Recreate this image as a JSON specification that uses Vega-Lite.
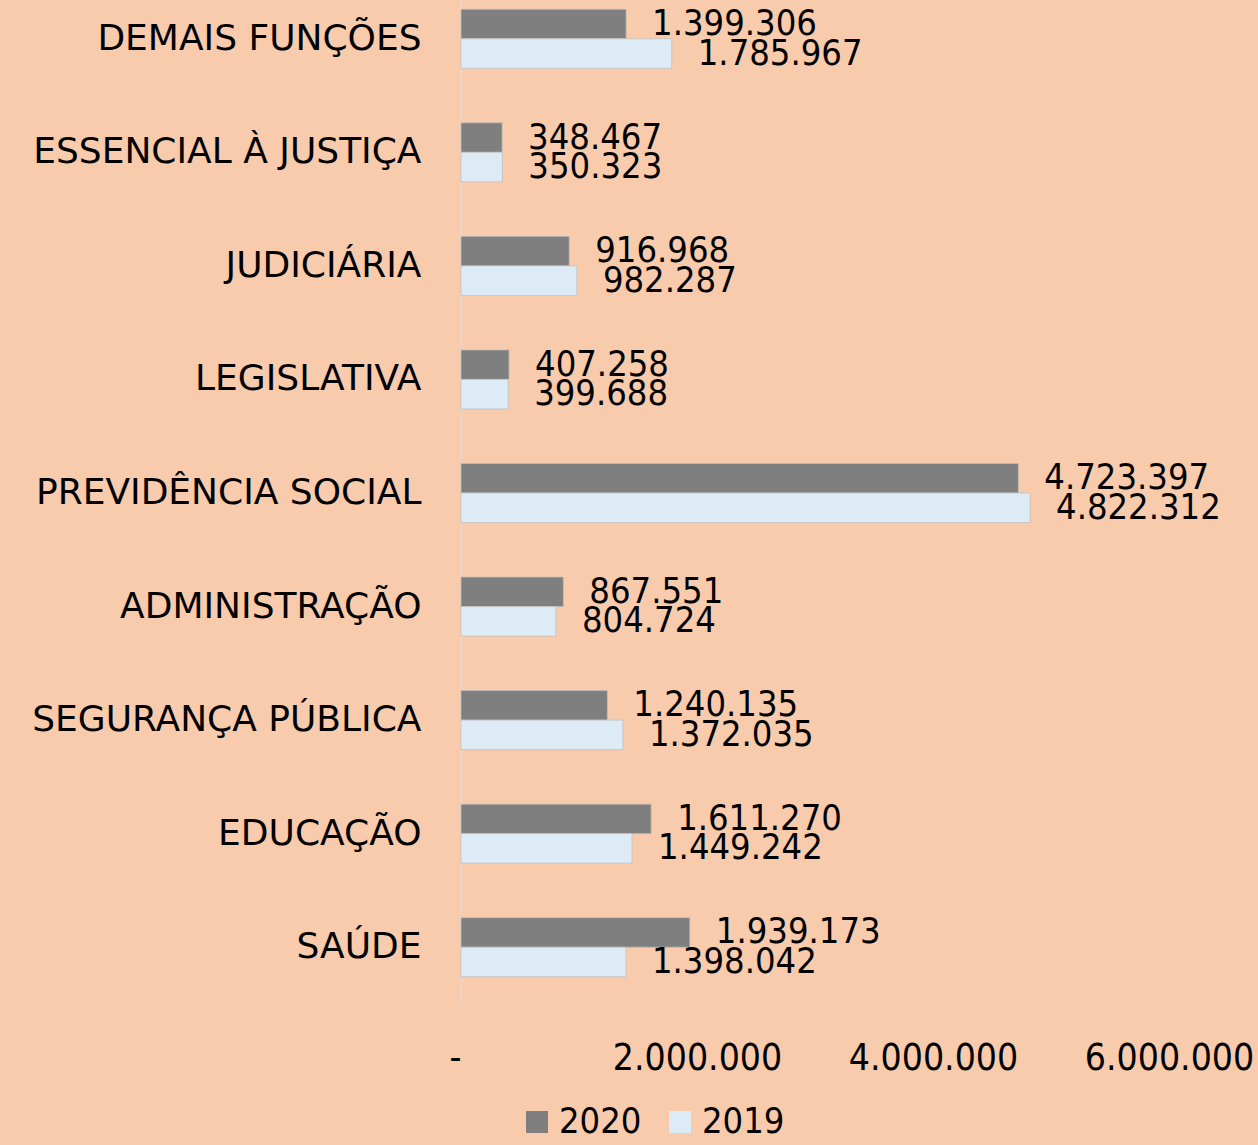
{
  "$schema": "https://vega.github.io/schema/vega-lite/v6.json",
  "autosize": "none",
  "width": 708,
  "height": 1004,
  "padding": {"left": 461, "top": 0, "right": 89, "bottom": 141},
  "background": "#F8CBAD",
  "config": {
    "view": {"stroke": null},
    "font": "DejaVu Sans Condensed, Roboto, sans-serif",
    "locale": {"number": {"decimal": ",", "thousands": ".", "grouping": [3], "currency": ["R$", ""]}}
  },
  "data": {
    "values": [
      {"funcao": "DEMAIS FUNÇÕES", "ano": "2020", "valor": 1399306},
      {"funcao": "DEMAIS FUNÇÕES", "ano": "2019", "valor": 1785967},
      {"funcao": "ESSENCIAL À JUSTIÇA", "ano": "2020", "valor": 348467},
      {"funcao": "ESSENCIAL À JUSTIÇA", "ano": "2019", "valor": 350323},
      {"funcao": "JUDICIÁRIA", "ano": "2020", "valor": 916968},
      {"funcao": "JUDICIÁRIA", "ano": "2019", "valor": 982287},
      {"funcao": "LEGISLATIVA", "ano": "2020", "valor": 407258},
      {"funcao": "LEGISLATIVA", "ano": "2019", "valor": 399688},
      {"funcao": "PREVIDÊNCIA SOCIAL", "ano": "2020", "valor": 4723397},
      {"funcao": "PREVIDÊNCIA SOCIAL", "ano": "2019", "valor": 4822312},
      {"funcao": "ADMINISTRAÇÃO", "ano": "2020", "valor": 867551},
      {"funcao": "ADMINISTRAÇÃO", "ano": "2019", "valor": 804724},
      {"funcao": "SEGURANÇA PÚBLICA", "ano": "2020", "valor": 1240135},
      {"funcao": "SEGURANÇA PÚBLICA", "ano": "2019", "valor": 1372035},
      {"funcao": "EDUCAÇÃO", "ano": "2020", "valor": 1611270},
      {"funcao": "EDUCAÇÃO", "ano": "2019", "valor": 1449242},
      {"funcao": "SAÚDE", "ano": "2020", "valor": 1939173},
      {"funcao": "SAÚDE", "ano": "2019", "valor": 1398042}
    ]
  },
  "encoding": {
    "y": {
      "field": "funcao",
      "type": "nominal",
      "sort": null,
      "scale": {"range": [-18, 1004], "paddingInner": 0.48, "paddingOuter": 0.24},
      "axis": {
        "title": null,
        "ticks": false,
        "domain": true,
        "domainColor": "#D9D9D9",
        "domainWidth": 1.5,
        "labelPadding": 40,
        "labelFont": "DejaVu Sans, sans-serif",
        "labelFontSize": 36,
        "labelColor": "#000000",
        "labelLimit": 500
      }
    },
    "yOffset": {
      "field": "ano",
      "type": "nominal",
      "scale": {"domain": ["2020", "2019"], "paddingInner": 0, "paddingOuter": 0}
    },
    "x": {
      "field": "valor",
      "type": "quantitative",
      "scale": {"domain": [0, 6000000], "nice": false},
      "axis": {
        "title": null,
        "grid": false,
        "domain": false,
        "ticks": false,
        "values": [0, 2000000, 4000000, 6000000],
        "labelExpr": "datum.value == 0 ? '-' : format(datum.value, ',d')",
        "labelAlign": {"condition": {"test": "datum.value == 0", "value": "right"}, "value": "center"},
        "labelPadding": 36,
        "labelFontSize": 37,
        "labelColor": "#000000",
        "labelFlush": false,
        "labelOverlap": false
      }
    }
  },
  "layer": [
    {
      "mark": {"type": "bar", "stroke": "#BFBFBF", "strokeWidth": 0.75},
      "encoding": {
        "color": {
          "field": "ano",
          "type": "nominal",
          "scale": {"domain": ["2020", "2019"], "range": ["#7F7F7F", "#DDEBF7"]},
          "legend": {
            "title": null,
            "orient": "none",
            "direction": "horizontal",
            "legendX": 58,
            "legendY": 1104,
            "symbolType": "square",
            "symbolSize": 484,
            "symbolStrokeWidth": 0,
            "labelFontSize": 36,
            "labelColor": "#000000",
            "labelOffset": 4,
            "columnPadding": 20
          }
        }
      }
    },
    {
      "mark": {"type": "text", "align": "left", "baseline": "middle", "dx": 26, "fontSize": 36, "color": "#000000"},
      "encoding": {
        "text": {"field": "valor", "type": "quantitative", "format": ",d"}
      }
    }
  ]
}
